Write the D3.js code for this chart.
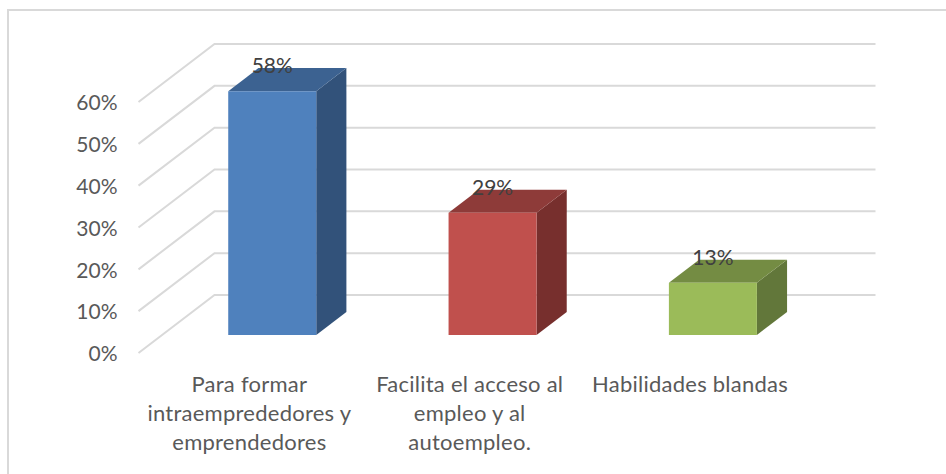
<!DOCTYPE html>
<html lang="es">

<head>
    <meta charset="UTF-8">
    <title>Grafico 3D</title>
    <style>
        html, body { margin: 0; padding: 0; background: #fff; }
        svg { display: block; }
        text { font-family: Lato, sans-serif; fill: #595959; }
    </style>
</head>

<body>
    <div id="my_dataviz"></div>
    <script src="https://d3js.org/d3.v7.min.js"></script>
    <script>
        // data
        var categories = ["Para formar", "Facilita", "Habilidades"]
        var categoryLines = [
            ["Para formar", "intraemprededores y", "emprendedores"],
            ["Facilita el acceso al", "empleo y al", "autoempleo."],
            ["Habilidades blandas"]
        ]
        var values = [58.3, 29.2, 12.5]
        var valueLabels = ["58%", "29%", "13%"]
        var tickValues = [0, 10, 20, 30, 40, 50, 60]
        var faceColors = ["#4f81bd", "#c0504d", "#9bbb59"]
        var topColors = ["#3c6291", "#8e3b39", "#748c43"]
        var sideColors = ["#32527a", "#772f2d", "#62773a"]

        var width = 946, height = 474

        var svg = d3.select("#my_dataviz")
            .append("svg")
            .attr("width", width)
            .attr("height", height)

        // picture frame, only left and top edges show
        svg.append("path")
            .attr("d", "M8,474V10H946")
            .attr("fill", "none")
            .attr("stroke", "#d9d9d9")
            .attr("stroke-width", 2)

        // front plane scales
        var x = d3.scaleBand().domain(categories).range([138.5, 799.5])
        var y = d3.scaleLinear().domain([0, 60]).range([353, 102])

        // depth goes from 0 (front) to 1 (back wall)
        var depthX = d3.scaleLinear().domain([0, 1]).range([0, 76])
        var depthY = d3.scaleLinear().domain([0, 1]).range([0, -58])
        var barFront = 0.31, barBack = 0.707
        var barWidth = 88

        function px(xv, t) { return xv + depthX(t) }
        function py(v, t) { return y(v) + depthY(t) }
        function poly(points) {
            return "M" + points.map(function (p) { return p[0] + "," + p[1] }).join("L") + "Z"
        }

        // gridlines, side wall + back wall
        svg.selectAll(".grid")
            .data(tickValues)
            .enter()
            .append("path")
            .attr("class", "grid")
            .attr("fill", "none")
            .attr("stroke", "#d9d9d9")
            .attr("stroke-width", 2)
            .attr("d", function (d) {
                return "M" + px(138.5, 0) + "," + py(d, 0) + "L" + px(138.5, 1) + "," + py(d, 1) + "H" + px(799.5, 1)
            })

        // y axis labels
        svg.append("g")
            .attr("transform", "translate(117.5,1)")
            .call(d3.axisLeft(y).tickValues(tickValues).tickSize(0).tickPadding(0).tickFormat(function (d) { return d + "%" }))
            .call(function (g) { g.select(".domain").remove() })
            .selectAll("text")
            .style("font-family", "Lato, sans-serif")
            .style("font-size", "21px")
            .style("fill", "#595959")

        // bars
        var bars = svg.selectAll(".bar")
            .data(values)
            .enter()
            .append("g")
            .attr("class", "bar")

        function left(i) { return x(categories[i]) + (x.bandwidth() - barWidth) / 2 }

        bars.append("path")
            .attr("fill", function (d, i) { return sideColors[i] })
            .attr("d", function (d, i) {
                var r = left(i) + barWidth
                return poly([[px(r, barFront), py(0, barFront)], [px(r, barBack), py(0, barBack)],
                    [px(r, barBack), py(d, barBack)], [px(r, barFront), py(d, barFront)]])
            })
        bars.append("path")
            .attr("fill", function (d, i) { return topColors[i] })
            .attr("d", function (d, i) {
                var l = left(i), r = l + barWidth
                return poly([[px(l, barFront), py(d, barFront)], [px(r, barFront), py(d, barFront)],
                    [px(r, barBack), py(d, barBack)], [px(l, barBack), py(d, barBack)]])
            })
        bars.append("path")
            .attr("fill", function (d, i) { return faceColors[i] })
            .attr("d", function (d, i) {
                var l = left(i), r = l + barWidth
                return poly([[px(l, barFront), py(0, barFront)], [px(r, barFront), py(0, barFront)],
                    [px(r, barFront), py(d, barFront)], [px(l, barFront), py(d, barFront)]])
            })

        // data labels
        bars.append("text")
            .attr("text-anchor", "middle")
            .style("font-size", "21px")
            .style("fill", "#404040")
            .attr("x", function (d, i) { return px(left(i) + barWidth / 2, barFront) })
            .attr("y", function (d) { return py(d, barFront) - 18 })
            .text(function (d, i) { return valueLabels[i] })

        // category labels
        var cat = svg.selectAll(".cat")
            .data(categoryLines)
            .enter()
            .append("text")
            .attr("class", "cat")
            .attr("text-anchor", "middle")
            .style("font-size", "22px")
            .style("letter-spacing", "0.25px")
        cat.selectAll("tspan")
            .data(function (d, i) { return d.map(function (t) { return { t: t, i: i } }) })
            .enter()
            .append("tspan")
            .attr("x", function (d) { return x(categories[d.i]) + x.bandwidth() / 2 + 0.7 })
            .attr("y", function (d, j) { return 392 + j * 29 })
            .text(function (d) { return d.t })
    </script>
</body>

</html>
